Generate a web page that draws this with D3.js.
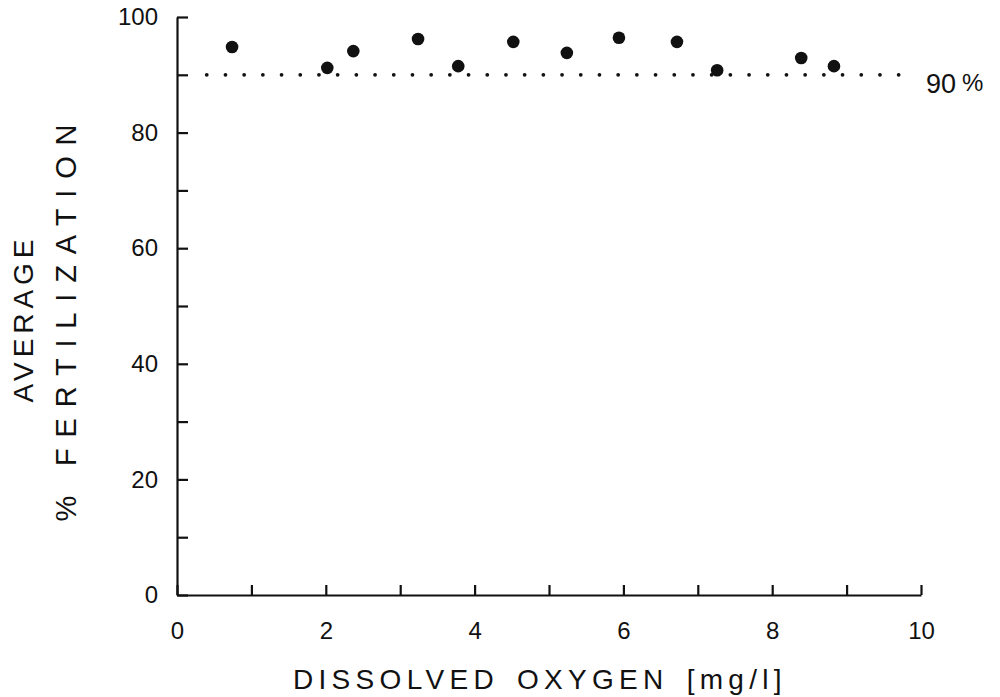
<!DOCTYPE html>
<html>
<head>
<meta charset="utf-8">
<script src="https://cdn.jsdelivr.net/npm/d3@7"></script>
<style>
  body { margin: 0; background: #fff; }
  text { font-family: "Liberation Sans", Arial, sans-serif; fill: #111; }
</style>
</head>
<body>
<script>
const width = 1000;
const height = 697;

// dissolved oxygen (mg/l) vs average % fertilization
const oxygen = [0.74, 2.02, 2.37, 3.24, 3.78, 4.52, 5.24, 5.94, 6.72, 7.26, 8.39, 8.83];
const fertilization = [94.8, 91.2, 94.1, 96.2, 91.5, 95.7, 93.8, 96.4, 95.7, 90.8, 92.9, 91.5];

const xTicks = d3.range(0, 11, 1);
const xTickLabels = [0, 2, 4, 6, 8, 10];
const yTicks = d3.range(0, 101, 10);
const yTickLabels = [0, 20, 40, 60, 80, 100];
const threshold = 90;

const x = d3.scaleLinear().domain([0, 10]).range([177, 921]);
const y = d3.scaleLinear().domain([0, 100]).range([595, 17]);

const svg = d3.select("body")
  .append("svg")
  .attr("width", width)
  .attr("height", height);

// x axis, ticks pointing up
svg.append("g")
  .attr("transform", `translate(0,${y(0)})`)
  .call(d3.axisBottom(x)
    .tickValues(xTicks)
    .tickSizeInner(-10)
    .tickSizeOuter(0)
    .tickPadding(27)
    .tickFormat(d => xTickLabels.includes(d) ? d : ""));

// y axis, ticks pointing right
svg.append("g")
  .attr("transform", `translate(${x(0)},0)`)
  .call(d3.axisLeft(y)
    .tickValues(yTicks)
    .tickSizeInner(-11)
    .tickSizeOuter(0)
    .tickPadding(19)
    .tickFormat(d => yTickLabels.includes(d) ? d : ""));

svg.selectAll(".domain, .tick line")
  .attr("stroke", "#111")
  .attr("stroke-width", 2.2);

svg.selectAll(".tick text")
  .attr("font-size", 24)
  .attr("fill", "#111");

// 90 % dotted reference line
svg.append("line")
  .attr("x1", x(0.4))
  .attr("x2", x(9.8))
  .attr("y1", y(threshold))
  .attr("y2", y(threshold))
  .attr("stroke", "#111")
  .attr("stroke-width", 3.8)
  .attr("stroke-linecap", "round")
  .attr("stroke-dasharray", "0 18.7");

const lbl = svg.append("text")
  .attr("x", 926)
  .attr("y", y(threshold) + 18)
  .attr("font-size", 27);
lbl.append("tspan").text(threshold);
lbl.append("tspan").attr("dx", 6).attr("dy", -2).attr("font-size", 24).text("%");

// points
svg.append("g")
  .selectAll("circle")
  .data(oxygen)
  .join("circle")
  .attr("cx", d => x(d))
  .attr("cy", (d, i) => y(fertilization[i]))
  .attr("r", 6.3)
  .attr("fill", "#111");

// axis titles
svg.append("text")
  .attr("x", 293)
  .attr("y", 689)
  .attr("font-size", 28)
  .attr("letter-spacing", 5.3)
  .attr("word-spacing", 5)
  .text("DISSOLVED OXYGEN [mg/l]");

svg.append("text")
  .attr("transform", "translate(33,321) rotate(-90)")
  .attr("text-anchor", "middle")
  .attr("font-size", 28)
  .attr("textLength", 163)
  .attr("lengthAdjust", "spacing")
  .text("AVERAGE");

svg.append("text")
  .attr("transform", "translate(76,323) rotate(-90)")
  .attr("text-anchor", "middle")
  .attr("font-size", 29)
  .attr("textLength", 397)
  .attr("lengthAdjust", "spacing")
  .text("% FERTILIZATION");
</script>
</body>
</html>
